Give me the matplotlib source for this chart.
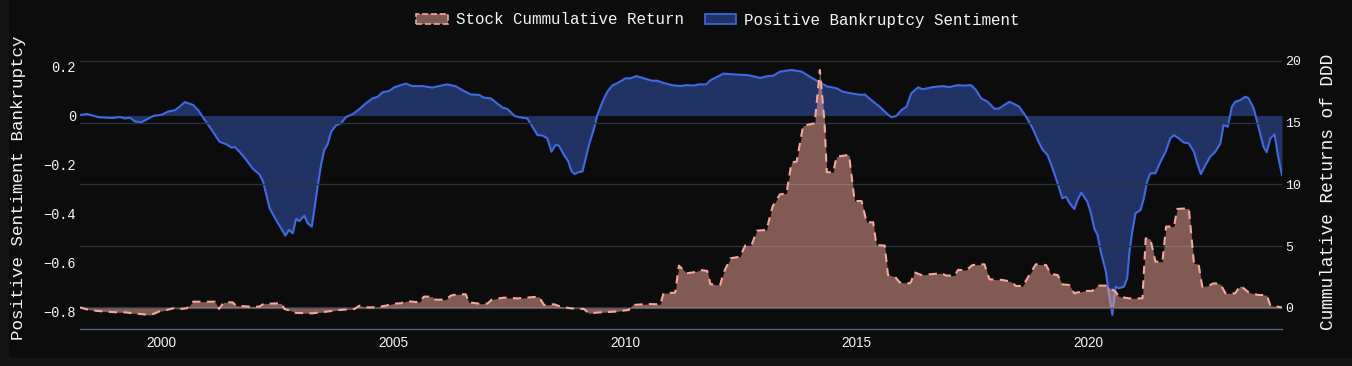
import matplotlib
matplotlib.use('Agg')
import matplotlib.pyplot as plt
from matplotlib.patches import Patch, Rectangle

# Positive bankruptcy sentiment (left axis), decimal years
sent_year = [1998.24, 1998.40, 1998.64, 1998.82, 1998.96, 1999.10, 1999.21, 1999.32, 1999.43, 1999.57,
             1999.68, 1999.82, 2000.00, 2000.14, 2000.29, 2000.39, 2000.50, 2000.68, 2000.79, 2000.93,
             2001.08, 2001.25, 2001.40, 2001.51, 2001.58, 2001.68, 2001.83, 2001.97, 2002.11, 2002.19,
             2002.26, 2002.33, 2002.47, 2002.58, 2002.67, 2002.75, 2002.83, 2002.90, 2002.97, 2003.08,
             2003.15, 2003.24, 2003.30, 2003.37, 2003.44, 2003.51, 2003.58, 2003.66, 2003.76, 2003.87,
             2003.98, 2004.12, 2004.27, 2004.41, 2004.55, 2004.66, 2004.77, 2004.91, 2005.02, 2005.13,
             2005.27, 2005.41, 2005.63, 2005.84, 2005.99, 2006.16, 2006.34, 2006.52, 2006.67, 2006.85,
             2006.95, 2007.10,
             2007.36, 2007.46, 2007.61, 2007.71, 2007.89, 2008.00, 2008.11, 2008.22, 2008.32, 2008.41,
             2008.50, 2008.57, 2008.68, 2008.77, 2008.84, 2008.91, 2008.98, 2009.08, 2009.15, 2009.22,
             2009.33, 2009.40, 2009.51, 2009.61, 2009.72, 2009.86, 2010.01, 2010.12, 2010.24, 2010.40,
             2010.58, 2010.69, 2010.83, 2011.01, 2011.19, 2011.33, 2011.48, 2011.59, 2011.75, 2011.84,
             2011.98, 2012.12, 2012.41, 2012.63, 2012.77, 2012.91, 2013.05, 2013.20, 2013.34, 2013.59,
             2013.81, 2013.99, 2014.17, 2014.35, 2014.56, 2014.70, 2014.92, 2015.10, 2015.17, 2015.31,
             2015.49,
             2015.64, 2015.74, 2015.85, 2015.96, 2016.07, 2016.17, 2016.32, 2016.42, 2016.64, 2016.85,
             2017.00, 2017.18, 2017.32, 2017.46, 2017.57, 2017.68, 2017.82, 2017.97, 2018.07, 2018.18,
             2018.29, 2018.40, 2018.50, 2018.65, 2018.79, 2018.90, 2019.00, 2019.11, 2019.22, 2019.33,
             2019.43, 2019.51, 2019.59, 2019.69, 2019.76, 2019.84, 2019.97, 2020.04, 2020.12, 2020.19,
             2020.26, 2020.37, 2020.44, 2020.51, 2020.58, 2020.65, 2020.76, 2020.83, 2020.88, 2020.94,
             2021.01, 2021.12, 2021.19, 2021.26, 2021.33, 2021.44, 2021.55, 2021.66, 2021.76, 2021.84,
             2021.94, 2022.05, 2022.16, 2022.27, 2022.34, 2022.42, 2022.52, 2022.62, 2022.73, 2022.84,
             2022.91, 2023.00, 2023.09, 2023.16, 2023.27, 2023.38, 2023.45, 2023.56, 2023.66, 2023.77,
             2023.84, 2023.92, 2024.01, 2024.08, 2024.17]
sentiment = [0.002, 0.006, -0.007, -0.009, -0.010, -0.006, -0.012, -0.009, -0.025, -0.027,
             -0.016, -0.002, 0.003, 0.016, 0.022, 0.036, 0.055, 0.043, 0.022, -0.018,
             -0.059, -0.107, -0.118, -0.131, -0.129, -0.148, -0.182, -0.218, -0.240, -0.270,
             -0.324, -0.379, -0.427, -0.461, -0.490, -0.467, -0.481, -0.422, -0.431, -0.409,
             -0.440, -0.454, -0.379, -0.284, -0.202, -0.141, -0.118, -0.066, -0.041, -0.032,
             -0.006, 0.005, 0.027, 0.050, 0.070, 0.076, 0.095, 0.100, 0.115, 0.122,
             0.130, 0.120, 0.120, 0.114, 0.120, 0.127, 0.120, 0.100, 0.086, 0.084,
             0.073, 0.070,
             0.032, 0.027, -0.001, -0.007, -0.012, -0.046, -0.080, -0.082, -0.093, -0.148,
             -0.120, -0.123, -0.161, -0.186, -0.227, -0.239, -0.232, -0.228, -0.175, -0.120,
             -0.052, 0.002, 0.056, 0.095, 0.122, 0.135, 0.152, 0.152, 0.161, 0.152,
             0.142, 0.142, 0.133, 0.124, 0.120, 0.124, 0.122, 0.127, 0.127, 0.144,
             0.157, 0.171, 0.167, 0.165, 0.160, 0.153, 0.160, 0.163, 0.179, 0.186,
             0.179, 0.158, 0.138, 0.119, 0.111, 0.097, 0.089, 0.084, 0.086, 0.063,
             0.036,
             0.009, -0.007, -0.002, 0.022, 0.036, 0.090, 0.115, 0.107, 0.116, 0.120,
             0.116, 0.124, 0.122, 0.124, 0.104, 0.070, 0.056, 0.027, 0.029, 0.043,
             0.056, 0.046, 0.036, -0.005, -0.052, -0.100, -0.138, -0.161, -0.216, -0.277,
             -0.338, -0.331, -0.359, -0.382, -0.345, -0.315, -0.352, -0.393, -0.461, -0.488,
             -0.556, -0.637, -0.733, -0.814, -0.699, -0.705, -0.699, -0.665, -0.556, -0.474,
             -0.399, -0.386, -0.338, -0.270, -0.236, -0.236, -0.188, -0.148, -0.093, -0.080,
             -0.093, -0.110, -0.114, -0.148, -0.195, -0.239, -0.202, -0.168, -0.148, -0.114,
             -0.039, -0.046, 0.036, 0.056, 0.063, 0.077, 0.070, 0.029, -0.046, -0.127,
             -0.150, -0.093, -0.077, -0.161, -0.243]

# DDD cumulative return (right axis)
stock_year = [1998.24, 1998.39, 1998.61, 1998.82, 1999.03, 1999.21, 1999.39, 1999.61, 1999.75, 1999.86,
              1999.93, 2000.11, 2000.25, 2000.39, 2000.54, 2000.61, 2000.68, 2000.90, 2001.15, 2001.24,
              2001.34, 2001.53, 2001.61, 2001.90, 2002.11, 2002.22, 2002.33, 2002.58, 2002.65, 2002.80,
              2002.90, 2003.26, 2003.55, 2003.84, 2004.16, 2004.27, 2004.41, 2004.62, 2004.84, 2004.98,
              2005.16, 2005.30, 2005.41, 2005.56, 2005.66, 2005.84, 2005.91, 2006.13, 2006.24, 2006.38,
              2006.56, 2006.63, 2006.85, 2007.03, 2007.13,
              2007.39, 2007.68, 2007.89, 2008.14, 2008.25, 2008.47, 2008.61, 2008.83, 2009.11, 2009.22,
              2009.47, 2009.76, 2010.08, 2010.15, 2010.47, 2010.76, 2010.83, 2011.08, 2011.16, 2011.33,
              2011.48, 2011.62, 2011.77, 2011.84, 2012.05, 2012.12, 2012.27, 2012.48, 2012.59, 2012.73,
              2012.84, 2013.05, 2013.18, 2013.34, 2013.48, 2013.59, 2013.70, 2013.84, 2014.09, 2014.20,
              2014.30, 2014.35, 2014.49, 2014.56, 2014.83, 2014.95, 2015.10, 2015.21, 2015.35, 2015.42,
              2015.60, 2015.67, 2015.82, 2015.92, 2016.14,
              2016.17, 2016.24, 2016.39, 2016.64, 2016.82, 2016.93, 2017.11, 2017.18, 2017.36, 2017.50,
              2017.75, 2017.86, 2018.14, 2018.32, 2018.43, 2018.58, 2018.72, 2018.86, 2019.08, 2019.18,
              2019.33, 2019.43, 2019.58, 2019.69, 2019.90, 2020.08, 2020.19, 2020.37, 2020.58, 2020.65,
              2020.87, 2021.16, 2021.23, 2021.33, 2021.44, 2021.59, 2021.67, 2021.84, 2021.91, 2022.16,
              2022.27, 2022.37, 2022.45, 2022.59, 2022.70, 2022.84, 2022.95, 2023.16, 2023.27, 2023.45,
              2023.66, 2023.84, 2023.92, 2024.17]
stock_return = [0.05, -0.11, -0.24, -0.30, -0.35, -0.35, -0.43, -0.51, -0.57, -0.43,
                -0.30, -0.16, -0.03, -0.08, -0.03, 0.24, 0.51, 0.51, 0.51, -0.08,
                0.46, 0.46, 0.19, 0.11, 0.11, 0.38, 0.35, 0.38, -0.08, -0.24,
                -0.40, -0.43, -0.30, -0.16, -0.08, 0.19, 0.05, 0.05, 0.19, 0.35,
                0.38, 0.57, 0.51, 0.46, 0.92, 0.92, 0.67, 0.67, 1.00, 1.11,
                1.11, 0.46, 0.35, 0.35, 0.70,
                0.84, 0.78, 0.84, 0.92, 0.24, 0.30, 0.11, -0.03, -0.08, -0.43,
                -0.35, -0.30, -0.16, 0.24, 0.32, 0.30, 1.19, 1.24, 3.43, 2.81,
                2.89, 3.08, 3.00, 1.92, 1.86, 2.81, 4.02, 4.16, 5.05, 5.10,
                6.26, 6.32, 8.21, 9.20, 9.28, 11.79, 11.85, 14.76, 14.95, 19.27,
                15.09, 10.99, 10.99, 12.25, 12.39, 8.66, 8.66, 6.94, 6.94, 5.10,
                5.05, 2.67, 2.54, 2.08, 2.00,
                2.13, 2.89, 2.67, 2.75, 2.81, 2.62, 2.62, 3.08, 3.08, 3.48,
                3.54, 2.32, 2.27, 2.13, 1.78, 1.78, 2.67, 3.54, 3.48, 2.75,
                2.67, 1.92, 1.86, 1.19, 1.38, 1.38, 1.81, 1.81, 1.32, 0.92,
                0.78, 0.78, 5.64, 5.59, 3.75, 3.75, 6.59, 6.59, 8.02, 8.07,
                3.62, 3.54, 1.73, 1.81, 2.00, 1.94, 1.19, 1.19, 1.81, 1.27,
                1.05, 1.05, 0.19, 0.05]

year_ticks = [2000, 2005, 2010, 2015, 2020]
left_ticks = [0.2, 0, -0.2, -0.4, -0.6, -0.8]
left_tick_labels = ['0.2', '0', '\u22120.2', '\u22120.4', '\u22120.6', '\u22120.8']
right_ticks = [0, 5, 10, 15, 20]

W, H = 1352, 366
txt = '#f2f5fa'
mono = 'Liberation Mono'
blue = '#3f6ae0'
salmon = '#f5a89b'

fig = plt.figure(figsize=(W / 100, H / 100), dpi=100, facecolor='#141414')
# darker inner panel, lighter strip on the left and bottom edges
fig.patches.append(Rectangle((9 / W, 8 / H), 1, 1, transform=fig.transFigure,
                             facecolor='#0c0c0c', edgecolor='none', zorder=-1))

ax = fig.add_axes([80 / W, 1 - 329.3 / H, 1202 / W, (329.3 - 58) / H])
ax.set_facecolor('none')
ax2 = ax.twinx()
ax2.set_facecolor('none')

# sentiment on left axis
ax.fill_between(sent_year, sentiment, 0, color=blue, alpha=0.42, lw=0)
ax.plot(sent_year, sentiment, color=blue, lw=1.5)

# stock on right axis
ax2.axhline(0, color='#2f3a48', lw=1.5, zorder=0)
ax2.grid(axis='y', color='#283442', lw=0.9)
ax2.set_axisbelow(True)
ax2.fill_between(stock_year, stock_return, 0, color=salmon, alpha=0.5, lw=0)
ax2.plot(stock_year, stock_return, color=salmon, lw=1.5, ls=(0, (4, 3)))

ax.set_xlim(sent_year[0], sent_year[-1])
ax.set_ylim(-0.8727, 0.2347)
ax2.set_ylim(-1.725, 20.24)

ax.set_xticks(year_ticks)
ax.set_xticklabels([str(y) for y in year_ticks], family='Liberation Sans', fontsize=9.8, color=txt)
ax.set_yticks(left_ticks)
ax.set_yticklabels(left_tick_labels, family=mono, fontsize=9.8, color=txt)
ax2.set_yticks(right_ticks)
ax2.set_yticklabels([str(t) for t in right_ticks], family=mono, fontsize=9.6, color=txt)
ax.tick_params(axis='x', length=0, pad=5)
ax.tick_params(axis='y', length=0, pad=3)
ax2.tick_params(axis='y', length=0, pad=2)

for a in (ax, ax2):
    for s in ('left', 'right', 'top'):
        a.spines[s].set_visible(False)
ax2.spines['bottom'].set_visible(False)
ax.spines['bottom'].set_color('#506784')
ax.spines['bottom'].set_linewidth(1)

ax.set_ylabel('Positive Sentiment Bankruptcy', family=mono, fontsize=12.6, color=txt)
ax.yaxis.set_label_coords(-0.0449, 0.522)
ax2.set_ylabel('Cummulative Returns of DDD', family=mono, fontsize=12.8, color=txt)
ax2.yaxis.set_label_coords(1.0316, 0.507)

handles = [Patch(facecolor=(0.96, 0.66, 0.61, 0.5), edgecolor=salmon, linestyle='--', lw=1.2),
           Patch(facecolor=(0.25, 0.42, 0.88, 0.42), edgecolor=blue, lw=1.2)]
fig.legend(handles, ['Stock Cummulative Return', 'Positive Bankruptcy Sentiment'],
           loc='center', bbox_to_anchor=(718 / W, 1 - 20 / H), ncol=2, frameon=False,
           prop={'family': mono, 'size': 11.4}, labelcolor=txt,
           handlelength=2.0, handleheight=0.6, handletextpad=0.5, columnspacing=1.3)

fig.savefig('out.png', dpi=100, facecolor=fig.get_facecolor())
